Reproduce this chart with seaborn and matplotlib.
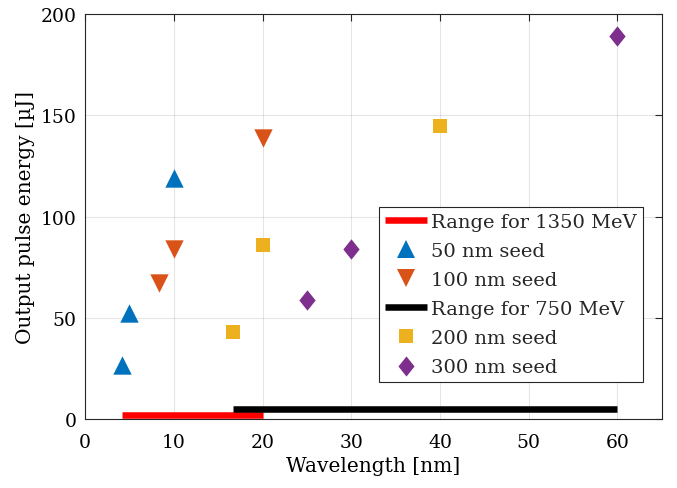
import matplotlib
matplotlib.use("Agg")
import matplotlib.pyplot as plt
import seaborn as sns
import pandas as pd
from matplotlib.lines import Line2D

# Seed wavelengths [nm] and output pulse energies [uJ]
seed50_wl = [4.17, 5.0, 10.0]
seed50_energy = [26.5, 52.5, 119.0]
seed100_wl = [8.33, 10.0, 20.0]
seed100_energy = [67.0, 84.0, 139.0]
seed200_wl = [16.67, 20.0, 40.0]
seed200_energy = [43.0, 86.0, 145.0]
seed300_wl = [25.0, 30.0, 60.0]
seed300_energy = [59.0, 84.0, 189.0]

# Accessible wavelength ranges for the two beam energies
range1350_wl = [4.2, 20.0]
range1350_level = [2.0, 2.0]
range750_wl = [16.7, 60.0]
range750_level = [5.0, 5.0]

labels = ["Range for 1350 MeV", "50 nm seed", "100 nm seed",
          "Range for 750 MeV", "200 nm seed", "300 nm seed"]

blue = "#0072BD"
orange = "#D95319"
yellow = "#EDB120"
purple = "#7E2F8E"

sns.set_theme(style="white")
plt.rcParams["font.family"] = ["DejaVu Serif"]

fig = plt.figure(figsize=(6.77, 4.89), dpi=100)
ax = fig.add_axes([0.1256, 0.141, 0.852, 0.828])

diamond = [(0, 1), (0.8, 0), (0, -1), (-0.8, 0), (0, 1)]

lw_range = 4.7
sns.lineplot(x=range1350_wl, y=range1350_level, ax=ax, color="#FF0000",
             linewidth=lw_range, solid_capstyle="butt", zorder=3)
sns.lineplot(x=range750_wl, y=range750_level, ax=ax, color="black",
             linewidth=lw_range, solid_capstyle="butt", zorder=3)

series = [
    (seed50_wl, seed50_energy, "^", blue, 175),
    (seed100_wl, seed100_energy, "v", orange, 175),
    (seed200_wl, seed200_energy, "s", yellow, 90),
    (seed300_wl, seed300_energy, diamond, purple, 215),
]
for wl, en, mk, col, size in series:
    df = pd.DataFrame({"wl": wl, "en": en})
    sns.scatterplot(data=df, x="wl", y="en", ax=ax, marker=mk, color=col,
                    s=size, linewidth=0, zorder=4)

ax.set_xlim(0, 65)
ax.set_ylim(0, 200)
ax.set_xticks(range(0, 61, 10))
ax.set_yticks(range(0, 201, 50))
ax.grid(True, color="#000000", alpha=0.1, linewidth=0.8)
ax.set_axisbelow(True)
ax.tick_params(direction="in", length=5, width=0.8, color="#262626",
               top=True, right=True, labelsize=13.5, labelcolor="black")
ax.tick_params(axis="x", pad=10)
ax.tick_params(axis="y", pad=6)
for sp in ax.spines.values():
    sp.set_color("#262626")
    sp.set_linewidth(0.8)
ax.set_xlabel("Wavelength [nm]", fontsize=14.5, color="black", labelpad=4)
ax.set_ylabel("Output pulse energy [\u00b5J]", fontsize=14.5, color="black",
              labelpad=4)

handles = [
    Line2D([], [], color="#FF0000", linewidth=lw_range, solid_capstyle="butt"),
    Line2D([], [], linestyle="none", marker="^", color=blue, markersize=13,
           markeredgewidth=0),
    Line2D([], [], linestyle="none", marker="v", color=orange, markersize=13,
           markeredgewidth=0),
    Line2D([], [], color="black", linewidth=lw_range, solid_capstyle="butt"),
    Line2D([], [], linestyle="none", marker="s", color=yellow, markersize=9.5,
           markeredgewidth=0),
    Line2D([], [], linestyle="none", marker=diamond, color=purple,
           markersize=14.5, markeredgewidth=0),
]
leg = ax.legend(handles, labels, loc="lower right",
                bbox_to_anchor=(0.967, 0.091), fontsize=14, frameon=True,
                fancybox=False, edgecolor="#262626", framealpha=1,
                handlelength=2.2, handletextpad=0.2, labelspacing=0.57,
                borderpad=0.3, borderaxespad=0)
leg.get_frame().set_linewidth(0.8)

fig.savefig("out.png", dpi=100)
